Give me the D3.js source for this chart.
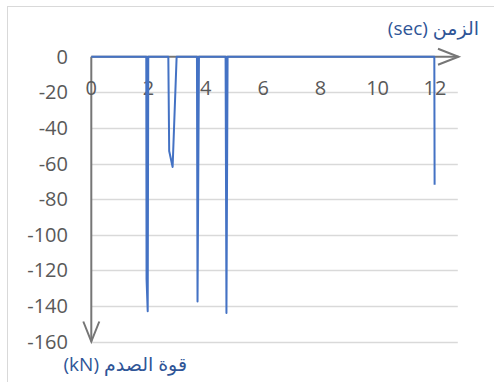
<!DOCTYPE html>
<html>
<head>
<meta charset="utf-8">
<script src="https://cdn.jsdelivr.net/npm/d3@7"></script>
<style>
  html, body { margin: 0; padding: 0; background: #fff; }
  svg { display: block; }
  text { font-family: "Open Sans", "DejaVu Sans", sans-serif; }
</style>
</head>
<body>
<svg id="chart" width="494" height="382"></svg>
<script>
// Impact force record: time (s) and force (kN)
const timeSec = [0, 1.92, 1.93, 1.97, 1.99, 2.69, 2.72, 2.84, 2.98, 3.69, 3.71, 3.76, 4.69, 4.72, 4.76, 11.98, 11.99];
const forceKN = [0, 0, -125, -143, 0, 0, -53, -62, 0, 0, -137.5, 0, 0, -144, 0, 0, -72];

const xTicks = [0, 2, 4, 6, 8, 10, 12];
const yTicks = [0, -20, -40, -60, -80, -100, -120, -140, -160];

const xTitle = "الزمن (sec)";
const yTitle = "قوة الصدم (kN)";

const svg = d3.select("#chart");

// chart frame
svg.append("rect")
  .attr("x", 7.5).attr("y", 6.5)
  .attr("width", 520).attr("height", 420)
  .attr("fill", "#fff").attr("stroke", "#D9D9D9").attr("stroke-width", 1);

const x = d3.scaleLinear().domain([0, 12.8]).range([91.3, 457.8]);
const y = d3.scaleLinear().domain([-160, 0]).range([341.5, 56.7]);

// horizontal gridlines
svg.append("g")
  .selectAll("line")
  .data(yTicks.filter(d => d !== 0))
  .join("line")
  .attr("x1", x(0)).attr("x2", x(12.8))
  .attr("y1", d => Math.round(y(d)) + 0.5).attr("y2", d => Math.round(y(d)) + 0.5)
  .attr("stroke", "#D9D9D9").attr("stroke-width", 1.3);

// y tick labels
svg.append("g")
  .selectAll("text")
  .data(yTicks)
  .join("text")
  .attr("x", 68).attr("y", d => y(d) + 7)
  .attr("text-anchor", "end")
  .attr("font-size", 20)
  .attr("fill", "#595959")
  .text(d => d);

// axes with arrowheads
const axisColor = "#767676";
svg.append("line")
  .attr("x1", x(0)).attr("x2", 458.5)
  .attr("y1", y(0)).attr("y2", y(0))
  .attr("stroke", axisColor).attr("stroke-width", 2);
svg.append("path")
  .attr("d", `M${438},${y(0) - 8} L${458.5},${y(0)} L${438},${y(0) + 8}`)
  .attr("fill", "none").attr("stroke", axisColor).attr("stroke-width", 2);

svg.append("line")
  .attr("x1", x(0)).attr("x2", x(0))
  .attr("y1", y(0)).attr("y2", y(-160))
  .attr("stroke", axisColor).attr("stroke-width", 2);
svg.append("path")
  .attr("d", `M${x(0) - 8},${y(-160) - 20} L${x(0)},${y(-160)} L${x(0) + 8},${y(-160) - 20}`)
  .attr("fill", "none").attr("stroke", axisColor).attr("stroke-width", 2);

// x tick labels
svg.append("g")
  .selectAll("text")
  .data(xTicks)
  .join("text")
  .attr("x", d => x(d)).attr("y", y(-20) + 3)
  .attr("text-anchor", "middle")
  .attr("font-size", 20)
  .attr("fill", "#595959")
  .text(d => d);

// force series
const line = d3.line().x((d, i) => x(timeSec[i])).y(d => y(d));
svg.append("path")
  .datum(forceKN)
  .attr("d", line)
  .attr("fill", "none")
  .attr("stroke", "#4472C4")
  .attr("stroke-width", 2)
  .attr("stroke-linejoin", "round");

// axis titles
svg.append("text")
  .attr("x", 479).attr("y", 35)
  .style("direction", "rtl")
  .attr("text-anchor", "start")
  .attr("font-size", 19)
  .attr("fill", "#2F5597")
  .text(xTitle);

svg.append("text")
  .attr("x", 187).attr("y", 371)
  .style("direction", "rtl")
  .attr("text-anchor", "start")
  .attr("font-size", 19)
  .attr("fill", "#2F5597")
  .text(yTitle);
</script>
</body>
</html>
